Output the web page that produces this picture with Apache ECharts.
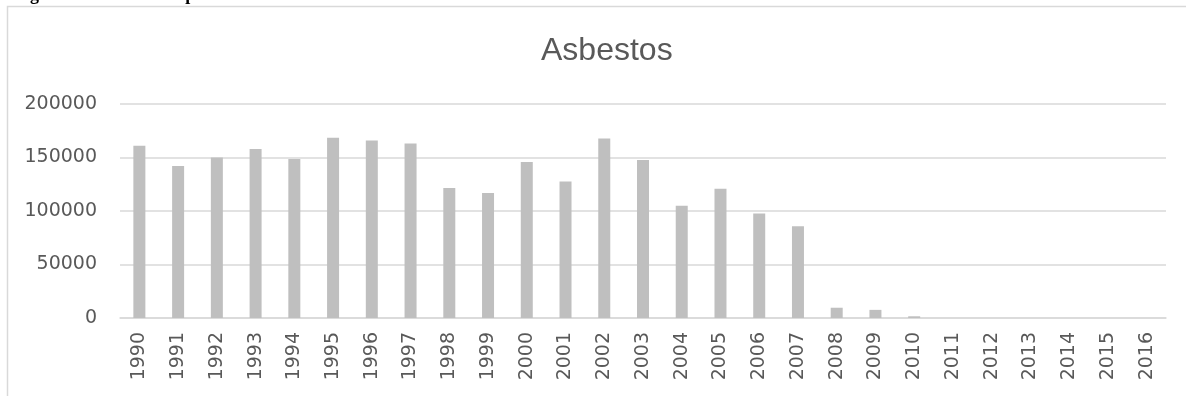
<!DOCTYPE html>
<html>
<head>
<meta charset="utf-8">
<title>Asbestos</title>
<script src="https://cdn.jsdelivr.net/npm/echarts@6/dist/echarts.min.js"></script>
<style>
  html, body { margin: 0; padding: 0; background: #ffffff; }
  #chart { width: 1186px; height: 396px; }
</style>
</head>
<body>
<div id="chart"></div>
<script>
// Annual asbestos output (tonnes), 1990–2016
const years = ['1990','1991','1992','1993','1994','1995','1996','1997','1998','1999',
               '2000','2001','2002','2003','2004','2005','2006','2007','2008','2009',
               '2010','2011','2012','2013','2014','2015','2016'];
const output = [161000, 142000, 150000, 158000, 148500, 168500, 165800, 163000, 121600, 116800,
                145800, 127600, 167700, 147600, 104800, 120800, 97700, 85700, 9600, 7600,
                1600, 0, 0, 0, 0, 0, 0];
const yTicks = { min: 0, max: 200000, step: 50000 };

const textColor = '#595959';
const gridColor = '#d9d9d9';
const labelFont = 'DejaVu Sans';

const chart = echarts.init(document.getElementById('chart'), null, { renderer: 'canvas' });

chart.setOption({
  animation: false,
  backgroundColor: '#ffffff',
  title: {
    text: 'Asbestos',
    left: 536,
    top: 30,
    textStyle: { fontFamily: 'Liberation Sans', fontSize: 32, fontWeight: 'normal', color: textColor }
  },
  graphic: [
    {
      // caption line above the chart frame (only its lower edge shows)
      type: 'text',
      left: 14,
      top: -14,
      style: {
        text: 'Figure 4: Asbestos output in Zimbabwe',
        font: 'bold 18px "Liberation Serif"',
        fill: '#000000'
      },
      z: 10
    },
    {
      // chart frame
      type: 'rect',
      shape: { x: 7.5, y: 6.5, width: 1200, height: 420 },
      style: { fill: 'none', stroke: gridColor, lineWidth: 1.5 },
      silent: true,
      z: -1
    }
  ],
  grid: { left: 120, right: 20, top: 104, bottom: 78, containLabel: false },
  xAxis: {
    type: 'category',
    data: years,
    axisLine: { show: true, lineStyle: { color: gridColor, width: 1.5 } },
    axisTick: { show: false },
    axisLabel: {
      rotate: 90,
      interval: 0,
      margin: 14,
      color: textColor,
      fontFamily: labelFont,
      fontSize: 19
    }
  },
  yAxis: {
    type: 'value',
    min: yTicks.min,
    max: yTicks.max,
    interval: yTicks.step,
    axisLine: { show: false },
    axisTick: { show: false },
    splitLine: { lineStyle: { color: gridColor, width: 1.5 } },
    axisLabel: {
      margin: 23,
      color: textColor,
      fontFamily: labelFont,
      fontSize: 19,
      formatter: (v) => String(v)
    }
  },
  series: [{
    type: 'bar',
    name: 'Asbestos',
    data: output,
    barWidth: 12,
    itemStyle: { color: '#bfbfbf' }
  }]
});
</script>
</body>
</html>
